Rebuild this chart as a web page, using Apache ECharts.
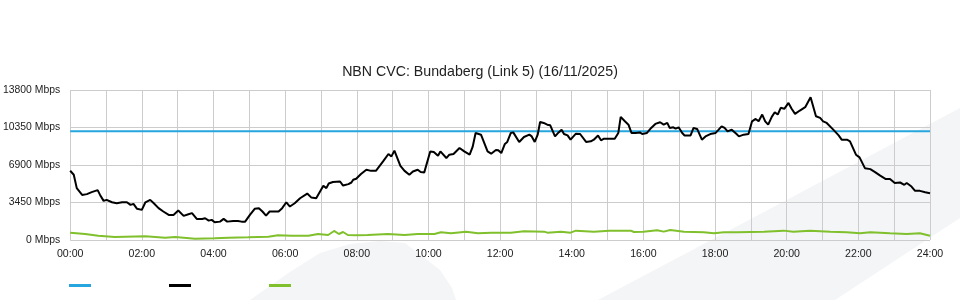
<!DOCTYPE html>
<html>
<head>
<meta charset="utf-8">
<script src="https://cdn.jsdelivr.net/npm/echarts@6/dist/echarts.min.js"></script>
<style>
html,body{margin:0;padding:0;background:#fff;}
#chart{width:960px;height:300px;}
</style>
</head>
<body>
<div id="chart"></div>
<script>
// ---- data (minutes since midnight, Mbps) ----
var titleText = 'NBN CVC: Bundaberg (Link 5) (16/11/2025)';
var yTicks = [0, 3450, 6900, 10350, 13800];
var xTickLabels = ['00:00','02:00','04:00','06:00','08:00','10:00','12:00','14:00','16:00','18:00','20:00','22:00','24:00'];

var capacityMinutes = [0, 1440];
var capacityMbps = [10000, 10000];

var trafficMinutes = [0,6,11,20,28,36,46,50,56,61,70,78,87,95,101,106,112,120,126,134,140,148,156,165,173,181,190,198,204,212,221,226,232,237,242,251,257,263,273,281,287,293,301,309,316,322,328,334,343,349,355,362,368,376,385,397,404,412,424,429,433,440,452,457,466,471,474,479,487,496,504,512,524,533,538,543,553,560,568,574,582,587,593,603,609,616,620,630,635,642,652,660,669,674,679,688,699,705,713,717,722,728,732,738,742,752,760,769,773,778,783,787,793,799,804,812,818,823,827,833,838,847,854,864,872,877,884,889,894,903,912,918,922,929,935,940,947,954,958,966,973,980,988,994,1000,1004,1010,1014,1019,1025,1029,1039,1044,1050,1058,1064,1072,1081,1086,1091,1096,1101,1108,1116,1120,1128,1136,1142,1148,1153,1159,1164,1169,1175,1180,1185,1190,1196,1203,1208,1214,1222,1231,1240,1249,1256,1261,1267,1278,1287,1292,1301,1306,1316,1322,1331,1340,1348,1356,1366,1373,1381,1390,1397,1401,1409,1415,1423,1432,1440];
var trafficMbps = [6370,6000,4770,4150,4220,4400,4590,4150,3600,3690,3470,3380,3470,3470,3230,3320,2870,2770,3470,3690,3380,2930,2620,2310,2310,2710,2220,2370,2470,1940,1940,2000,1780,1850,1630,1690,1940,1690,1750,1750,1690,1690,2310,2870,2930,2620,2250,2620,2620,2620,2930,3470,3080,3380,3840,4270,3900,3840,4990,4770,5200,5330,5380,5010,5140,5290,5540,5630,6070,6460,6360,6360,7230,7910,7690,8220,6830,6360,6000,6300,6460,6250,6220,8150,8100,7750,8150,7540,7850,7910,8470,8150,7850,8560,9850,9690,8150,7940,8280,8250,8000,8840,9020,9850,9900,9020,9480,9690,9530,9020,9690,10860,10770,10610,10550,9530,9900,10150,9750,9620,9230,9780,9750,9020,9080,9230,9620,9170,9320,9320,9320,9850,11330,10920,10610,9850,9850,9900,9750,9850,10310,10680,10830,10610,10770,10310,10370,10240,10370,9850,9620,9620,10310,10220,9230,9530,9750,9850,10150,10460,10310,9990,10150,9750,9530,9690,9750,10920,11140,10920,11540,10920,10610,11330,11750,11540,12160,12070,12610,12100,11600,11910,12220,13130,11380,11230,10920,10770,10150,9620,9230,9230,9080,7850,7600,6610,6520,6250,5940,5610,5610,5240,5290,5080,5240,4920,4520,4520,4400,4310];

var uploadMinutes = [0,25,47,75,126,159,176,209,242,265,298,332,348,371,399,415,432,442,450,457,465,481,498,532,560,582,610,621,638,663,683,705,720,738,760,794,799,822,838,847,877,903,939,944,960,983,994,1005,1028,1061,1078,1095,1117,1139,1162,1195,1211,1239,1273,1300,1323,1340,1373,1401,1423,1440];
var uploadMbps = [674,554,400,277,338,215,277,123,154,215,246,308,431,400,400,554,462,831,554,738,462,431,462,554,462,554,554,708,615,769,615,677,677,677,800,769,677,769,677,862,769,862,862,738,769,892,769,923,769,708,615,708,708,738,769,862,769,862,769,708,615,708,615,554,615,400];

function pairs(xs, ys){ var out=[]; for (var i=0;i<xs.length;i++) out.push([xs[i], ys[i]]); return out; }

var chart = echarts.init(document.getElementById('chart'), null, {renderer:'canvas'});
var gridColor = '#cccccc';
var bandFill = '#f4f5f7';
var fontFam = 'Liberation Sans, Arial, sans-serif';

chart.setOption({
  animation: false,
  backgroundColor: '#ffffff',
  textStyle: { fontFamily: fontFam },
  graphic: [
    { type: 'polygon', z: -10, silent: true,
      shape: { points: [[250,300],[290,272],[320,253],[350,244],[380,241],[405,243],[440,270],[452,288],[456,300]] },
      style: { fill: bandFill } },
    { type: 'polygon', z: -10, silent: true,
      shape: { points: [[598,300],[960,108],[960,218],[835,300]] },
      style: { fill: bandFill } }
  ],
  title: {
    text: titleText,
    left: 'center',
    top: 60,
    textStyle: { fontSize: 14.2, fontWeight: 'normal', color: '#222', fontFamily: fontFam }
  },
  legend: {
    left: 64,
    top: 279,
    itemWidth: 22,
    itemHeight: 3,
    itemGap: 78,
    icon: 'rect',
    formatter: function(){ return ''; },
    textStyle: { fontSize: 10, padding: 0 },
    data: ['Capacity', 'Download', 'Upload']
  },
  grid: { left: 70, right: 30, top: 90, bottom: 60, containLabel: false },
  xAxis: {
    type: 'value',
    min: 0, max: 1440, interval: 60,
    axisLine: { show: false },
    axisTick: { show: false },
    splitLine: { show: true, lineStyle: { color: gridColor, width: 1 } },
    axisLabel: {
      color: '#222', fontSize: 10.6, margin: 9,
      fontFamily: fontFam,
      formatter: function(v){ return (v % 120 === 0) ? xTickLabels[v/120] : ''; }
    }
  },
  yAxis: {
    type: 'value',
    min: yTicks[0], max: yTicks[yTicks.length-1], interval: yTicks[1]-yTicks[0],
    axisLine: { show: false },
    axisTick: { show: false },
    splitLine: { show: true, lineStyle: { color: gridColor, width: 1 } },
    axisLabel: {
      color: '#222', fontSize: 10.4, margin: 10,
      padding: [0,0,3,0],
      fontFamily: fontFam,
      formatter: function(v){ return String(v) + ' Mbps'; }
    }
  },
  series: [
    { name: 'Capacity', type: 'line', data: pairs(capacityMinutes, capacityMbps),
      symbol: 'none', lineStyle: { color: '#27a6de', width: 2 }, itemStyle: { color: '#27a6de' }, z: 3 },
    { name: 'Download', type: 'line', data: pairs(trafficMinutes, trafficMbps),
      symbol: 'none', lineStyle: { color: '#000000', width: 2 }, itemStyle: { color: '#000000' }, z: 4 },
    { name: 'Upload', type: 'line', data: pairs(uploadMinutes, uploadMbps),
      symbol: 'none', lineStyle: { color: '#7fc02c', width: 2 }, itemStyle: { color: '#7fc02c' }, z: 4 }
  ]
});
</script>
</body>
</html>
